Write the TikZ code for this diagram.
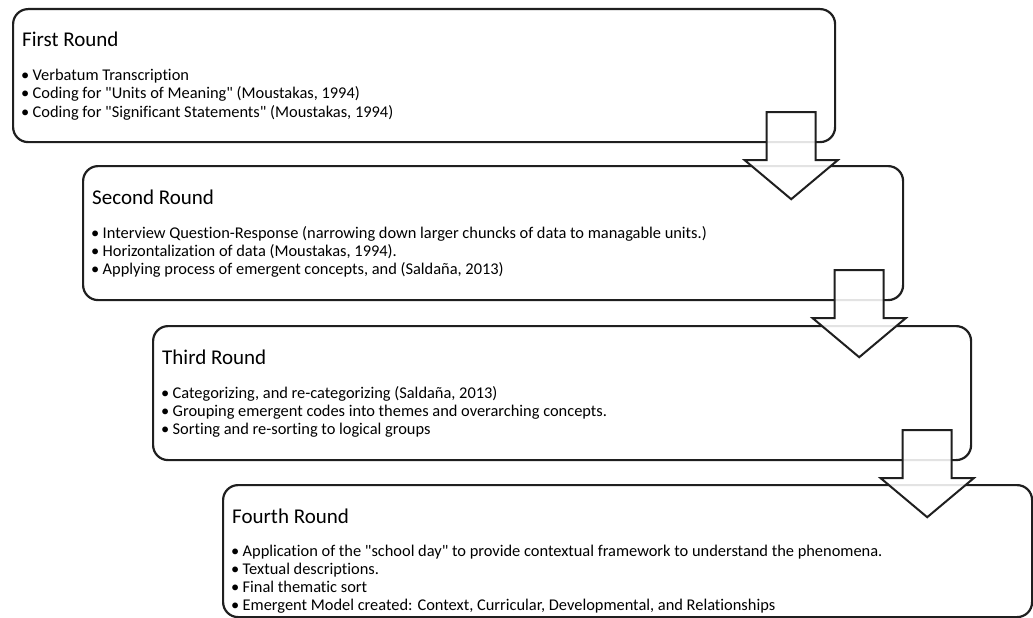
\documentclass[tikz,border=0pt]{standalone}
\usepackage{fontspec}
\setmainfont{Carlito}[Ligatures={NoCommon,TeXOff}]
\usetikzlibrary{calc}
\newcommand{\bul}{\makebox[11.5pt][l]{•}}
\begin{document}
\begin{tikzpicture}[x=1pt,y=-1pt,
  stepbox/.style={draw=black!88, line width=2.2pt, rounded corners=15pt, fill=white, anchor=north west, inner sep=0pt},
  roundtitle/.style={anchor=base west, inner sep=0pt, font=\fontsize{21}{24}\selectfont},
  roundline/.style={anchor=base west, inner sep=0pt, font=\fontsize{16.4}{18}\selectfont},
  blockarrow/.style={draw=black!88, line width=2pt, fill=white, fill opacity=0.88, line join=miter}
]
\useasboundingbox (0,0) rectangle (1033,618);

% the four rounds, stepping down to the right
\node[stepbox, minimum width=822pt, minimum height=133pt] (b1) at (12,8) {};
\node[stepbox, minimum width=820pt, minimum height=134pt] (b2) at (82,165) {};
\node[stepbox, minimum width=818pt, minimum height=134pt] (b3) at (152,325) {};
\node[stepbox, minimum width=809pt, minimum height=132pt] (b4) at (222,484) {};

% texts of the first round
\node[roundtitle] (t1) at ($(b1.north west)+(10,39)$) {First Round};
\node[roundline] (l11) at ($(b1.north west)+(9,73)$) {\bul Verbatum Transcription};
\node[roundline] (l12) at ($(b1.north west)+(9,91)$) {\bul Coding for "Units of Meaning" (Moustakas, 1994)};
\node[roundline] (l13) at ($(b1.north west)+(9,109)$) {\bul Coding for "Significant Statements" (Moustakas, 1994)};

% texts of the second round
\node[roundtitle] (t2) at ($(b2.north west)+(10,39)$) {Second Round};
\node[roundline] (l21) at ($(b2.north west)+(9,73)$) {\bul Interview Question-Response (narrowing down larger chuncks of data to managable units.)};
\node[roundline] (l22) at ($(b2.north west)+(9,91)$) {\bul Horizontalization of data (Moustakas, 1994).};
\node[roundline] (l23) at ($(b2.north west)+(9,109)$) {\bul Applying process of emergent concepts, and (Saldaña, 2013)};

% texts of the third round
\node[roundtitle] (t3) at ($(b3.north west)+(10,39)$) {Third Round};
\node[roundline] (l31) at ($(b3.north west)+(9,73)$) {\bul Categorizing, and re-categorizing (Saldaña, 2013)};
\node[roundline] (l32) at ($(b3.north west)+(9,91)$) {\bul Grouping emergent codes into themes and overarching concepts.};
\node[roundline] (l33) at ($(b3.north west)+(9,109)$) {\bul Sorting and re-sorting to logical groups};

% texts of the fourth round
\node[roundtitle] (t4) at ($(b4.north west)+(10,39)$) {Fourth Round};
\node[roundline] (l41) at ($(b4.north west)+(9,72)$) {\bul Application of the "school day" to provide contextual framework to understand the phenomena.};
\node[roundline] (l42) at ($(b4.north west)+(9,90)$) {\bul Textual descriptions.};
\node[roundline] (l43) at ($(b4.north west)+(9,108)$) {\bul Final thematic sort};
\node[roundline] (l44) at ($(b4.north west)+(9,126)$) {\bul Emergent Model created: Context, Curricular, Developmental, and Relationships};

% block arrows leading from each round down into the next
\foreach \src in {b1,b2,b3}{
  \coordinate (\src-arrow) at ($(\src.south east)+(-45,-31)$);
  \draw[blockarrow] (\src-arrow) ++(-24.5,0) -- ++(49,0) -- ++(0,48) -- ++(22,0)
    -- ++(-46.5,39) -- ++(-46.5,-39) -- ++(22,0) -- cycle;
}
\end{tikzpicture}
\end{document}
